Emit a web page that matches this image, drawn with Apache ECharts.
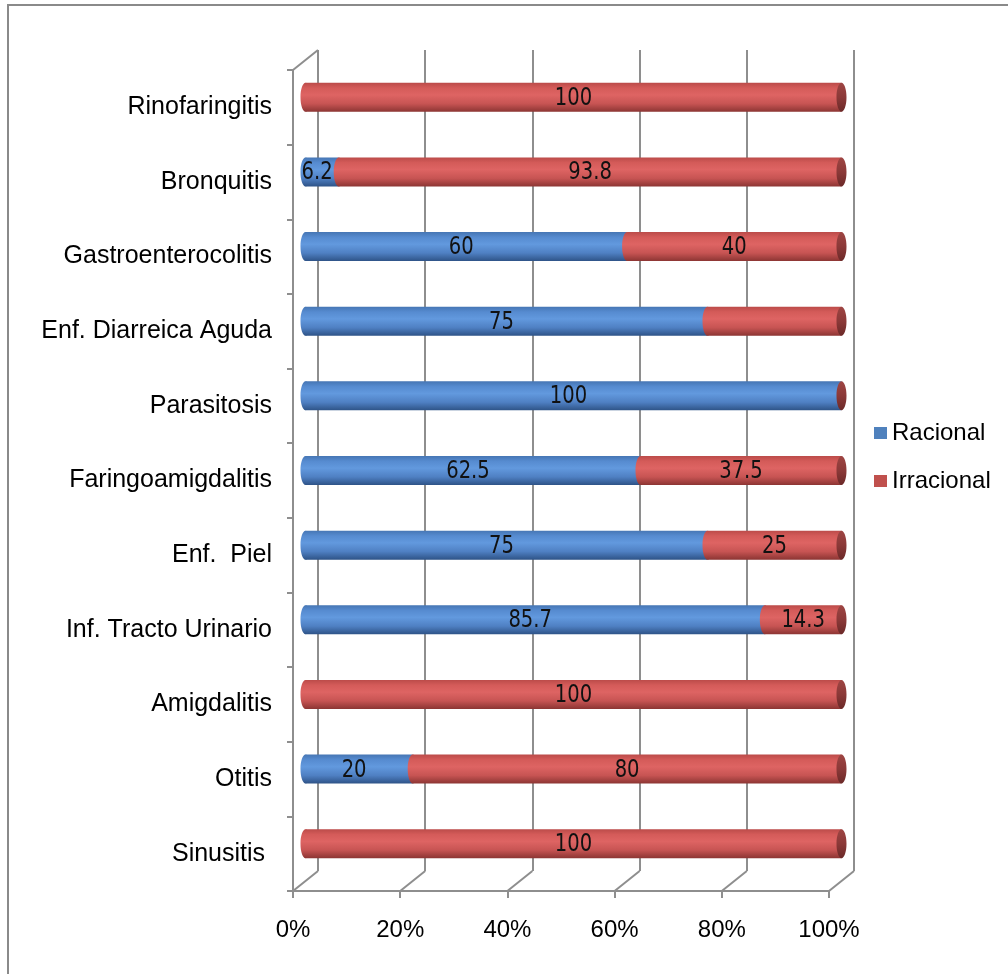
<!DOCTYPE html>
<html>
<head>
<meta charset="utf-8">
<title>Racional / Irracional por diagnóstico</title>
<script src="https://cdn.jsdelivr.net/npm/echarts@6/dist/echarts.min.js"></script>
<style>
  html, body { margin: 0; padding: 0; background: #ffffff; }
  #chart { width: 1008px; height: 974px; }
</style>
</head>
<body>
<div id="chart"></div>
<script>
// Diagnoses, bottom to top on the category axis
const categories = [
  'Sinusitis ', 'Otitis', 'Amigdalitis', 'Inf. Tracto Urinario', 'Enf.  Piel',
  'Faringoamigdalitis', 'Parasitosis', 'Enf. Diarreica Aguda', 'Gastroenterocolitis',
  'Bronquitis', 'Rinofaringitis'
];
// Percentages of each prescription type
const racional   = [0, 20, 0, 85.7, 75, 62.5, 100, 75, 60, 6.2, 0];
const irracional = [100, 80, 100, 14.3, 25, 37.5, 0, 25, 40, 93.8, 100];
// Segments drawn without a value label
const irracionalUnlabeled = ['Enf. Diarreica Aguda'];
const seriesNames = ['Racional', 'Irracional'];
const xTicks = [0, 20, 40, 60, 80, 100];

// Frame geometry: front plane, and the depth offset of the back wall
const FRONT = { left: 293, top: 70, right: 829, bottom: 891 };
const DEPTH_X = 25, DEPTH_Y = 20;
const W = 1008, H = 974;
const BAR_H = 29, END_RX = 5;
const GRID_COLOR = '#8e8e8e';
const LABEL_FONT = "25px 'DejaVu Sans Condensed', 'DejaVu Sans', sans-serif";
const LABEL_SQUEEZE = 0.87;
const TEXT_FONT = 'Liberation Sans, Arial, sans-serif';

function gridAt(dx, dy) {
  return {
    left: FRONT.left + dx,
    top: FRONT.top - dy,
    right: W - (FRONT.right + dx),
    bottom: H - (FRONT.bottom - dy),
    containLabel: false
  };
}

function grad(stops) {
  return new echarts.graphic.LinearGradient(0, 0, 0, 1,
    stops.map(c => ({ offset: c[0], color: c[1] })));
}
const BLUE_STOPS = [[0, '#4676b4'], [0.18, '#568bd0'], [0.42, '#6299de'], [0.72, '#4f80c3'], [1, '#2e5387']];
const RED_STOPS  = [[0, '#bb4b49'], [0.18, '#d45b59'], [0.42, '#de6463'], [0.72, '#c75453'], [1, '#8c3533']];
const CAP_STOPS  = [[0, '#9e4543'], [0.5, '#8b3938'], [1, '#6b2928']];

// Cylinder segment: rounded left end, body, optional end cap, centered value label
function segmentRenderer(stops, withCap, hidden) {
  return function (params, api) {
    const cat = api.value(0), start = api.value(1), end = api.value(2), val = api.value(3);
    const a = api.coord([start, cat]);
    const b = api.coord([end, cat]);
    const children = [];
    if (end > start) {
      children.push({ type: 'ellipse', shape: { cx: a[0], cy: a[1], rx: END_RX, ry: BAR_H / 2 }, style: { fill: grad(stops) } });
      children.push({ type: 'rect', shape: { x: a[0], y: a[1] - BAR_H / 2, width: b[0] - a[0], height: BAR_H }, style: { fill: grad(stops) } });
    }
    if (withCap) {
      children.push({ type: 'ellipse', shape: { cx: b[0], cy: b[1], rx: END_RX, ry: BAR_H / 2 }, style: { fill: grad(CAP_STOPS) } });
    }
    if (val > 0 && !hidden(categories[cat])) {
      const cx = withCap ? (a[0] + b[0]) / 2 : (a[0] + b[0]) / 2 - END_RX;
      children.push({
        type: 'text', x: cx, y: a[1] + 1, scaleX: LABEL_SQUEEZE,
        style: { text: String(val), font: LABEL_FONT, fill: '#111111', align: 'center', verticalAlign: 'middle' }
      });
    }
    return { type: 'group', children: children };
  };
}

const racionalData = categories.map((c, i) => [i, 0, racional[i], racional[i]]);
const irracionalData = categories.map((c, i) => [i, racional[i], racional[i] + irracional[i], irracional[i]]);

const chart = echarts.init(document.getElementById('chart'), null, { renderer: 'canvas' });

const axisLineStyle = { color: GRID_COLOR, width: 2 };

chart.setOption({
  animation: false,
  backgroundColor: '#ffffff',
  grid: [
    gridAt(0, 0),                    // front plane: axes and labels
    gridAt(DEPTH_X, DEPTH_Y),        // back wall: vertical gridlines
    gridAt(DEPTH_X / 2, DEPTH_Y / 2) // mid depth: cylinders
  ],
  xAxis: [
    {
      gridIndex: 0, type: 'value', min: 0, max: 100, interval: 20,
      axisLine: { show: true, lineStyle: axisLineStyle },
      axisTick: { show: true, length: 7, lineStyle: axisLineStyle },
      splitLine: { show: false },
      axisLabel: { formatter: '{value}%', fontSize: 24, color: '#000000', fontFamily: TEXT_FONT, margin: 27 }
    },
    {
      gridIndex: 1, type: 'value', min: 0, max: 100, interval: 20,
      axisLine: { show: false }, axisTick: { show: false }, axisLabel: { show: false },
      splitLine: { show: true, lineStyle: axisLineStyle }
    },
    {
      gridIndex: 2, type: 'value', min: 0, max: 100, interval: 20, show: false
    }
  ],
  yAxis: [
    {
      gridIndex: 0, type: 'category', data: categories,
      axisLine: { show: true, lineStyle: axisLineStyle },
      axisTick: { show: true, length: 6, lineStyle: axisLineStyle },
      splitLine: { show: false },
      axisLabel: { fontSize: 25, color: '#000000', fontFamily: TEXT_FONT, margin: 21 }
    },
    { gridIndex: 1, type: 'category', data: categories, show: false },
    { gridIndex: 2, type: 'category', data: categories, show: false }
  ],
  legend: {
    orient: 'vertical', left: 869, top: 415,
    icon: 'rect', itemWidth: 13, itemHeight: 12, itemGap: 22,
    data: seriesNames,
    textStyle: { fontSize: 24, lineHeight: 26, color: '#000000', fontFamily: TEXT_FONT }
  },
  series: [
    {
      name: seriesNames[0], type: 'custom', xAxisIndex: 2, yAxisIndex: 2,
      itemStyle: { color: '#4f81bd' },
      encode: { x: [1, 2], y: 0 },
      renderItem: segmentRenderer(BLUE_STOPS, false, () => false),
      data: racionalData, z: 3
    },
    {
      name: seriesNames[1], type: 'custom', xAxisIndex: 2, yAxisIndex: 2,
      itemStyle: { color: '#c0504d' },
      encode: { x: [1, 2], y: 0 },
      renderItem: segmentRenderer(RED_STOPS, true, c => irracionalUnlabeled.indexOf(c) >= 0),
      data: irracionalData, z: 4
    }
  ]
});

// Depth connectors of the 3D frame, placed from the axis scales
const frameLines = xTicks.map(v => {
  const x = chart.convertToPixel({ xAxisIndex: 0 }, v);
  return { type: 'line', shape: { x1: x, y1: FRONT.bottom, x2: x + DEPTH_X, y2: FRONT.bottom - DEPTH_Y } };
});
const slot = chart.convertToPixel({ yAxisIndex: 0 }, categories[0]) - chart.convertToPixel({ yAxisIndex: 0 }, categories[1]);
const topY = chart.convertToPixel({ yAxisIndex: 0 }, categories[categories.length - 1]) - slot / 2;
const leftX = chart.convertToPixel({ xAxisIndex: 0 }, 0);
frameLines.push({ type: 'line', shape: { x1: leftX, y1: topY, x2: leftX + DEPTH_X, y2: topY - DEPTH_Y } });

chart.setOption({
  graphic: [
    {
      type: 'rect', silent: true, z: 0,
      shape: { x: 8, y: 5, width: 1100, height: 1100 },
      style: { fill: 'none', stroke: '#8a8a8a', lineWidth: 2 }
    },
    {
      type: 'group', silent: true, z: 1,
      children: frameLines.map(l => Object.assign(l, { style: { stroke: GRID_COLOR, lineWidth: 2 } }))
    }
  ]
});
</script>
</body>
</html>
